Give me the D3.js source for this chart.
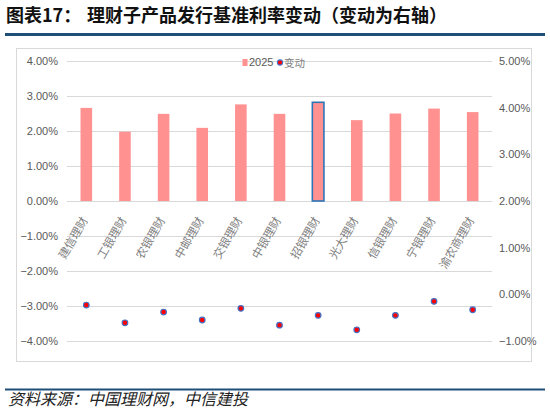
<!DOCTYPE html>
<html><head><meta charset="utf-8">
<script src="https://cdn.jsdelivr.net/npm/d3@7/dist/d3.min.js"></script>
<style>
html,body{margin:0;padding:0;background:#fff;}
svg{display:block;}
</style></head>
<body>
<svg id="c" width="550" height="409"></svg>
<script>
const categories = ["建信理财","工银理财","农银理财","中邮理财","交银理财","中银理财","招银理财","光大理财","信银理财","宁银理财","渝农商理财"];
const rate2025 = [2.66, 1.98, 2.49, 2.09, 2.76, 2.49, 2.82, 2.31, 2.50, 2.64, 2.54];
const change = [-0.23, -0.61, -0.38, -0.55, -0.30, -0.66, -0.45, -0.76, -0.45, -0.15, -0.33];
const leftTicks = [-4,-3,-2,-1,0,1,2,3,4];
const rightTicks = [-1,0,1,2,3,4,5];
const highlight = "招银理财";
const seriesNames = ["2025","变动"];

const svg = d3.select("#c");
const plot = {l:67, r:492, t:61, b:341};
const tickFont = "'Liberation Sans Narrow','Liberation Sans',Arial,sans-serif";
const cjk = "'Noto Sans CJK SC','Noto Sans',sans-serif";

// Title
svg.append("text").attr("x",6).attr("y",22)
  .attr("font-family",cjk).attr("font-weight","bold").attr("font-size",18).attr("fill","#111")
  .text("图表17：");
svg.append("text").attr("x",87).attr("y",22)
  .attr("font-family",cjk).attr("font-weight","bold").attr("font-size",18).attr("fill","#111")
  .text("理财子产品发行基准利率变动（变动为右轴）");
svg.append("rect").attr("x",5).attr("y",33).attr("width",540).attr("height",3).attr("fill","#1f4e79");

// Chart box
svg.append("rect").attr("x",16.5).attr("y",48.5).attr("width",515).attr("height",313)
  .attr("fill","#fff").attr("stroke","#d9d9d9").attr("stroke-width",1);

const x = d3.scaleBand().domain(categories).range([plot.l, plot.r]).paddingInner(0.7).paddingOuter(0.35);
const yL = d3.scaleLinear().domain([-4,4]).range([plot.b, plot.t]);
const yR = d3.scaleLinear().domain([-1,5]).range([plot.b, plot.t]);
const pct = d => d3.format(".2f")(d) + "%";

// Gridlines
svg.append("g").selectAll("line").data(leftTicks).join("line")
  .attr("x1",plot.l).attr("x2",plot.r)
  .attr("y1",d=>Math.round(yL(d))+0.5).attr("y2",d=>Math.round(yL(d))+0.5)
  .attr("stroke","#d9d9d9").attr("stroke-width",1);

// Left axis
const gL = svg.append("g").attr("transform",`translate(${plot.l},0)`)
  .call(d3.axisLeft(yL).tickValues(leftTicks).tickFormat(pct).tickSize(0).tickPadding(9));
gL.select(".domain").remove();
gL.selectAll("text").attr("font-family",tickFont).attr("font-size",11).attr("fill","#595959");

// Right axis
const gR = svg.append("g").attr("transform",`translate(${plot.r},0)`)
  .call(d3.axisRight(yR).tickValues(rightTicks).tickFormat(pct).tickSize(0).tickPadding(7));
gR.select(".domain").remove();
gR.selectAll("text").attr("font-family",tickFont).attr("font-size",11).attr("fill","#595959");

// Bars
svg.append("g").selectAll("rect").data(categories).join("rect")
  .attr("x",(d)=>x(d)).attr("width",x.bandwidth())
  .attr("y",(d,i)=>yL(rate2025[i])).attr("height",(d,i)=>yL(0)-yL(rate2025[i]))
  .attr("fill","#ff9191")
  .attr("stroke",d=>d===highlight?"#2e75b6":"none")
  .attr("stroke-width",1.6);

// Category labels
const cxOf = d => x(d) + x.bandwidth()/2;
svg.append("g").selectAll("text").data(categories).join("text")
  .attr("transform",d=>`translate(${cxOf(d)+2},${yL(0)+19}) rotate(-60)`)
  .attr("text-anchor","end")
  .attr("font-family",cjk).attr("font-size",11.5).attr("fill","#7f7f7f")
  .text(d=>d);

// Dots
svg.append("g").selectAll("circle").data(categories).join("circle")
  .attr("cx",cxOf).attr("cy",(d,i)=>yR(change[i])).attr("r",2.8)
  .attr("fill","#ff0000").attr("stroke","#4472c4").attr("stroke-width",1.2);

// Legend
const lg = svg.append("g");
lg.append("rect").attr("x",242.5).attr("y",59).attr("width",5).attr("height",7).attr("fill","#ff9191");
lg.append("text").attr("x",249).attr("y",66).attr("font-family",tickFont).attr("font-size",11).attr("fill","#595959").text(seriesNames[0]);
lg.append("circle").attr("cx",280).attr("cy",62.5).attr("r",2.6).attr("fill","#ff0000").attr("stroke","#4472c4").attr("stroke-width",1.1);
lg.append("text").attr("x",284).attr("y",66.5).attr("font-family",cjk).attr("font-size",10.5).attr("fill","#7f7f7f").text(seriesNames[1]);

// Bottom rule & source
svg.append("rect").attr("x",5).attr("y",388.5).attr("width",540).attr("height",2).attr("fill","#1f4e79");
svg.append("text").attr("x",8).attr("y",405).attr("font-family",cjk).attr("font-style","italic")
  .attr("font-size",16).attr("fill","#222").text("资料来源：中国理财网，中信建投");
</script>
</body></html>
